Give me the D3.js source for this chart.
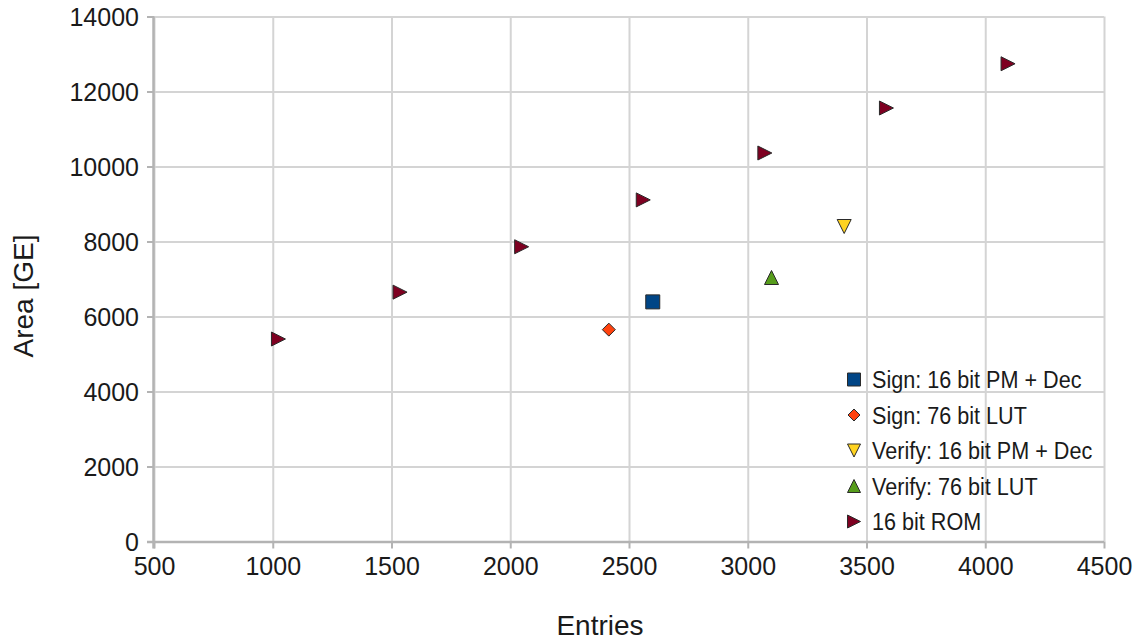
<!DOCTYPE html>
<html>
<head>
<meta charset="utf-8">
<script src="https://cdn.jsdelivr.net/npm/d3@7"></script>
<style>
  html, body { margin: 0; padding: 0; background: #fff; }
  svg { display: block; }
  text { font-family: "Liberation Sans", Arial, sans-serif; fill: #1a1a1a; }
</style>
</head>
<body>
<svg id="chart" width="1139" height="641"></svg>
<script>
// Series: table entries vs. area in gate equivalents
const romEntries = [1024, 1536, 2048, 2560, 3072, 3584, 4096];
const romArea    = [5400, 6650, 7860, 9110, 10360, 11560, 12740];

const signPmEntries   = [2600];
const signPmArea      = [6390];
const signLutEntries  = [2415];
const signLutArea     = [5650];
const verifyPmEntries = [3406];
const verifyPmArea    = [8400];
const verifyLutEntries = [3100];
const verifyLutArea    = [7040];

const xTicks = [500, 1000, 1500, 2000, 2500, 3000, 3500, 4000, 4500];
const yTicks = [0, 2000, 4000, 6000, 8000, 10000, 12000, 14000];

const series = [
  { name: "Sign: 16 bit PM + Dec",   x: signPmEntries,    y: signPmArea,    shape: "square",  color: "#004586" },
  { name: "Sign: 76 bit LUT",        x: signLutEntries,   y: signLutArea,   shape: "diamond", color: "#ff420e" },
  { name: "Verify: 16 bit PM + Dec", x: verifyPmEntries,  y: verifyPmArea,  shape: "down",    color: "#ffd320" },
  { name: "Verify: 76 bit LUT",      x: verifyLutEntries, y: verifyLutArea, shape: "up",      color: "#579d1c" },
  { name: "16 bit ROM",              x: romEntries,       y: romArea,       shape: "right",   color: "#7e0021" }
];

const svg = d3.select("#chart");
const plot = { left: 154, right: 1104, top: 16.5, bottom: 541.5 };

const x = d3.scaleLinear().domain([500, 4500]).range([plot.left, plot.right]);
const y = d3.scaleLinear().domain([0, 14000]).range([plot.bottom, plot.top]);

// Marker outlines, h = half size
function markerPath(shape, h) {
  switch (shape) {
    case "square":  return `M${-h},${-h}H${h}V${h}H${-h}Z`;
    case "diamond": return `M0,${-h}L${h},0L0,${h}L${-h},0Z`;
    case "down":    return `M${-h},${-h}L${h},${-h}L0,${h}Z`;
    case "up":      return `M0,${-h}L${h},${h}L${-h},${h}Z`;
    case "right":   return `M${-h},${-h}L${h},0L${-h},${h}Z`;
  }
}

// Grid
const grid = svg.append("g");
grid.append("g")
  .attr("transform", `translate(0,${plot.bottom})`)
  .call(d3.axisBottom(x).tickValues(xTicks).tickSize(-(plot.bottom - plot.top)).tickFormat(""))
  .call(g => g.select(".domain").remove())
  .call(g => g.selectAll("line").attr("stroke", "#d4d4d4").attr("stroke-width", 2));
grid.append("g")
  .attr("transform", `translate(${plot.left},0)`)
  .call(d3.axisLeft(y).tickValues(yTicks).tickSize(-(plot.right - plot.left)).tickFormat(""))
  .call(g => g.select(".domain").remove())
  .call(g => g.selectAll("line").attr("stroke", "#d4d4d4").attr("stroke-width", 2));

// Axes
const xAxis = svg.append("g")
  .attr("transform", `translate(0,${plot.bottom})`)
  .call(d3.axisBottom(x).tickValues(xTicks).tickSize(7).tickPadding(9).tickFormat(d3.format("d")))
  .call(g => g.select(".domain").attr("d", `M${plot.left - 7},0.5H${plot.right}`));
const yAxis = svg.append("g")
  .attr("transform", `translate(${plot.left},0)`)
  .call(d3.axisLeft(y).tickValues(yTicks).tickSize(7).tickPadding(8).tickFormat(d3.format("d")))
  .call(g => g.select(".domain").attr("d", `M-0.5,${plot.bottom + 7}V${plot.top}`));

[xAxis, yAxis].forEach(a => {
  a.select(".domain").attr("stroke", "#b3b3b3").attr("stroke-width", 2.5).attr("fill", "none");
  a.selectAll(".tick line").attr("stroke", "#b3b3b3").attr("stroke-width", 2);
  a.selectAll(".tick text").attr("font-size", 25).attr("fill", "#1a1a1a")
    .attr("font-family", "'Liberation Sans', Arial, sans-serif");
});
yAxis.selectAll(".tick text").attr("dy", "0.36em");

// Axis titles
svg.append("text")
  .attr("x", 600).attr("y", 635)
  .attr("text-anchor", "middle").attr("font-size", 28)
  .text("Entries");
svg.append("text")
  .attr("transform", "translate(33,296) rotate(-90)")
  .attr("text-anchor", "middle").attr("font-size", 28)
  .text("Area [GE]");

// Points
const marks = svg.append("g");
series.forEach(s => {
  marks.selectAll(null)
    .data(s.x.map((v, i) => [v, s.y[i]]))
    .join("path")
    .attr("transform", d => `translate(${x(d[0])},${y(d[1])})`)
    .attr("d", markerPath(s.shape, s.shape === "diamond" ? 6.5 : 7))
    .attr("fill", s.color)
    .attr("stroke", "#2a2a2a")
    .attr("stroke-width", 1);
});

// Legend
const legend = svg.append("g").attr("transform", "translate(854,379.5)");
const rowGap = 35.5;
series.forEach((s, i) => {
  const row = legend.append("g").attr("transform", `translate(0,${i * rowGap})`);
  row.append("path")
    .attr("d", markerPath(s.shape, s.shape === "diamond" ? 6 : 6.5))
    .attr("fill", s.color)
    .attr("stroke", "#2a2a2a")
    .attr("stroke-width", 1);
  row.append("text")
    .attr("transform", "translate(18,0) scale(0.9,1)")
    .attr("dy", "0.36em")
    .attr("font-size", 24)
    .text(s.name);
});
</script>
</body>
</html>
